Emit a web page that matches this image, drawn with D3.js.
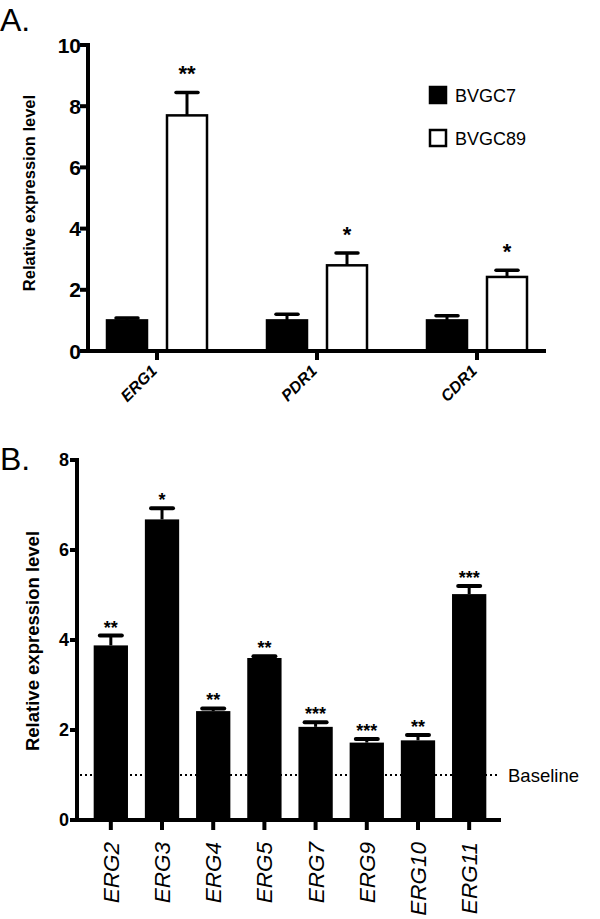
<!DOCTYPE html>
<html><head><meta charset="utf-8">
<script src="https://cdn.jsdelivr.net/npm/d3@7"></script>
<style>body{margin:0;background:#fff}svg{display:block}text{font-family:"Liberation Sans",Arial,sans-serif}</style>
</head><body>
<script>
// Panel A data
const catsA = ["ERG1","PDR1","CDR1"];
const seriesA = ["BVGC7","BVGC89"];
const valsA_C7 = [1.0, 1.0, 1.0];
const errA_C7 = [0.08, 0.2, 0.15];
const valsA_C89 = [7.7, 2.8, 2.42];
const errA_C89 = [0.75, 0.4, 0.22];
const sigA = ["**","*","*"];
const ticksA = [0,2,4,6,8,10];

// Panel B data
const catsB = ["ERG2","ERG3","ERG4","ERG5","ERG7","ERG9","ERG10","ERG11"];
const valsB = [3.88, 6.68, 2.42, 3.6, 2.07, 1.72, 1.77, 5.02];
const errB = [0.22, 0.25, 0.06, 0.04, 0.1, 0.08, 0.12, 0.18];
const sigB = ["**","*","**","**","***","***","**","***"];
const ticksB = [0,2,4,6,8];
const baselineB = 1;

const svg = d3.select("body").append("svg").attr("width",600).attr("height",919);

// ---------- Panel A ----------
svg.append("text").attr("x",0).attr("y",31).attr("font-size",32).text("A.");
const yA = d3.scaleLinear().domain([0,10]).range([351,45]);
const xA = d3.scaleBand().domain(catsA).range([77,557]).paddingInner(0).paddingOuter(0);
const xA0 = 80, xA1 = 546;
const gA = svg.append("g");
const bw = 40;
catsA.forEach((c,i)=>{
  const cx = xA(c)+xA.bandwidth()/2;
  const groups = [
    {v:valsA_C7[i], e:errA_C7[i], x:cx-50, fill:"#000"},
    {v:valsA_C89[i], e:errA_C89[i], x:cx+10, fill:"#fff"}
  ];
  groups.forEach(g=>{
    const mid = g.x+bw/2;
    gA.append("line").attr("x1",mid).attr("x2",mid).attr("y1",yA(g.v)).attr("y2",yA(g.v+g.e)).attr("stroke","#000").attr("stroke-width",3);
    gA.append("line").attr("x1",mid-11).attr("x2",mid+11).attr("y1",yA(g.v+g.e)).attr("y2",yA(g.v+g.e)).attr("stroke","#000").attr("stroke-width",3.5).attr("stroke-linecap","round");
    gA.append("rect").attr("x",g.x).attr("y",yA(g.v)).attr("width",bw).attr("height",yA(0)-yA(g.v)).attr("fill",g.fill).attr("stroke","#000").attr("stroke-width",2.5);
  });
  gA.append("text").attr("x",cx+10+bw/2).attr("y",yA(valsA_C89[i]+errA_C89[i])-11).attr("text-anchor","middle").attr("font-size",22).attr("font-weight","bold").text(sigA[i]);
  gA.append("line").attr("x1",cx).attr("x2",cx).attr("y1",yA(0)).attr("y2",yA(0)+9).attr("stroke","#000").attr("stroke-width",4);
  gA.append("text").attr("transform",`translate(${cx+1},${yA(0)+21}) rotate(-45)`).attr("text-anchor","end").attr("font-size",16).attr("font-weight","bold").attr("font-style","italic").text(c);
});
gA.append("line").attr("x1",88).attr("x2",88).attr("y1",yA(10)-2).attr("y2",yA(0)+2).attr("stroke","#000").attr("stroke-width",4);
gA.append("line").attr("x1",xA0).attr("x2",xA1).attr("y1",yA(0)).attr("y2",yA(0)).attr("stroke","#000").attr("stroke-width",4);
ticksA.forEach(t=>{
  gA.append("line").attr("x1",80).attr("x2",88).attr("y1",yA(t)).attr("y2",yA(t)).attr("stroke","#000").attr("stroke-width",4);
  gA.append("text").attr("x",81).attr("y",yA(t)).attr("dy","0.36em").attr("text-anchor","end").attr("font-size",21).attr("font-weight","bold").text(t);
});
gA.append("text").attr("transform",`translate(35,193) rotate(-90)`).attr("text-anchor","middle").attr("font-size",16.5).attr("font-weight","bold").text("Relative expression level");
const legY = [96,139];
const legFill = ["#000","#fff"];
seriesA.forEach((s,i)=>{
  svg.append("rect").attr("x",430).attr("y",legY[i]-9).attr("width",16).attr("height",16).attr("fill",legFill[i]).attr("stroke","#000").attr("stroke-width",2.5);
  svg.append("text").attr("x",455).attr("y",legY[i]).attr("dy","0.36em").attr("font-size",18).text(s);
});

// ---------- Panel B ----------
svg.append("text").attr("x",0).attr("y",470).attr("font-size",32).text("B.");
const yB = d3.scaleLinear().domain([0,8]).range([820,460]);
const xB = d3.scaleBand().domain(catsB).range([86,494]).paddingInner(0.33).paddingOuter(0.15);
const gB = svg.append("g");
catsB.forEach((c,i)=>{
  const x = xB(c), w = xB.bandwidth(), mid = x+w/2;
  const top = yB(valsB[i]+errB[i]);
  gB.append("line").attr("x1",mid).attr("x2",mid).attr("y1",yB(valsB[i])).attr("y2",top).attr("stroke","#000").attr("stroke-width",3);
  gB.append("line").attr("x1",mid-11).attr("x2",mid+11).attr("y1",top).attr("y2",top).attr("stroke","#000").attr("stroke-width",4).attr("stroke-linecap","round");
  gB.append("rect").attr("x",x).attr("y",yB(valsB[i])).attr("width",w).attr("height",yB(0)-yB(valsB[i])).attr("fill","#000");
  gB.append("text").attr("x",mid).attr("y",top-2).attr("text-anchor","middle").attr("font-size",18).attr("font-weight","bold").text(sigB[i]);
  gB.append("line").attr("x1",mid).attr("x2",mid).attr("y1",yB(0)).attr("y2",yB(0)+10).attr("stroke","#000").attr("stroke-width",4);
  gB.append("text").attr("transform",`translate(${mid+8},${yB(0)+22}) rotate(-90)`).attr("text-anchor","end").attr("font-size",22.5).attr("font-style","italic").text(c);
});
gB.append("line").attr("x1",80).attr("x2",500).attr("y1",yB(baselineB)).attr("y2",yB(baselineB)).attr("stroke","#000").attr("stroke-width",2).attr("stroke-dasharray","2,3");
gB.append("text").attr("x",508).attr("y",yB(baselineB)).attr("dy","0.36em").attr("font-size",18.5).text("Baseline");
gB.append("line").attr("x1",77).attr("x2",77).attr("y1",yB(8)-2).attr("y2",yB(0)+2).attr("stroke","#000").attr("stroke-width",4);
gB.append("line").attr("x1",70).attr("x2",501).attr("y1",yB(0)).attr("y2",yB(0)).attr("stroke","#000").attr("stroke-width",4);
ticksB.forEach(t=>{
  gB.append("line").attr("x1",70).attr("x2",77).attr("y1",yB(t)).attr("y2",yB(t)).attr("stroke","#000").attr("stroke-width",4);
  gB.append("text").attr("x",69).attr("y",yB(t)).attr("dy","0.36em").attr("text-anchor","end").attr("font-size",18).attr("font-weight","bold").text(t);
});
gB.append("text").attr("transform",`translate(39,641) rotate(-90)`).attr("text-anchor","middle").attr("font-size",18.5).attr("font-weight","bold").text("Relative expression level");
</script>
</body></html>
